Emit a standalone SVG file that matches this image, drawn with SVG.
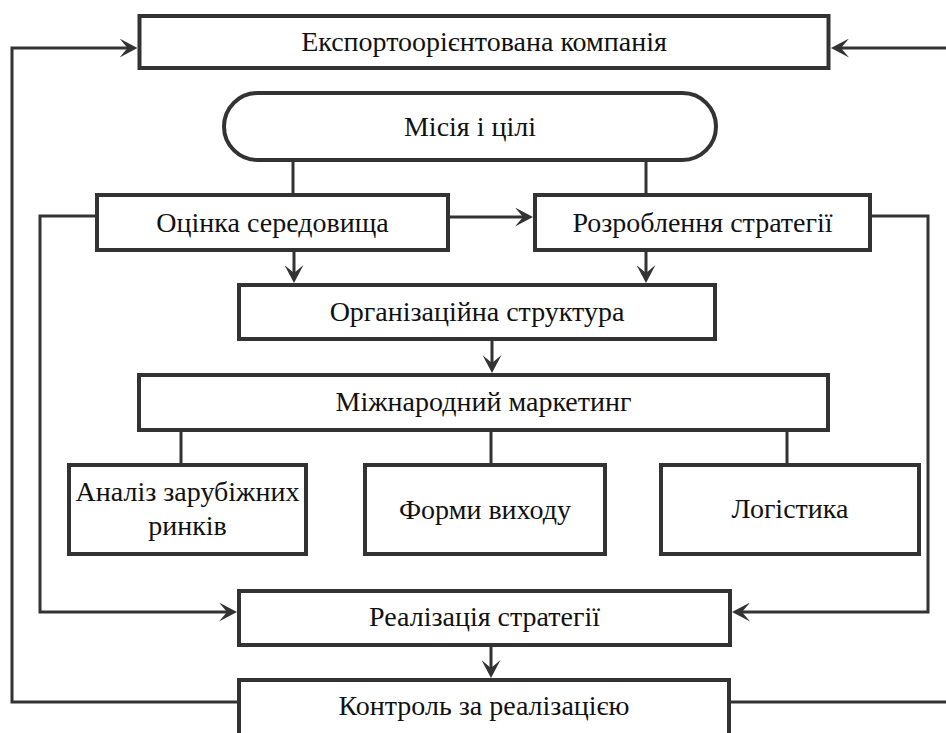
<svg xmlns="http://www.w3.org/2000/svg" width="946" height="733" viewBox="0 0 946 733">
<defs>
<style>
.box{fill:#fff;stroke:#333;stroke-width:4}
.ln{fill:none;stroke:#333;stroke-width:3}
.arr{marker-end:url(#ah)}
text{font-family:"Liberation Serif","Times New Roman",serif;font-size:28px;fill:#111;text-anchor:middle}
</style>
<marker id="ah" viewBox="0 0 18 19" refX="10" refY="9.5" markerWidth="18" markerHeight="19" markerUnits="userSpaceOnUse" orient="auto">
<path d="M0,0 L18,9.5 L0,19 L8,9.5 Z" fill="#333"/>
</marker>
</defs>
<rect width="946" height="733" fill="#fff"/>
<g id="connectors">
<path class="ln arr" d="M237,702 H12 V48 H129.5"/>
<path class="ln" d="M731,702 H946"/>
<path class="ln arr" d="M946,48 H839"/>
<path class="ln" d="M293,162 V193"/>
<path class="ln" d="M646,162 V193"/>
<path class="ln arr" d="M450,217 H525"/>
<path class="ln arr" d="M95,216 H40 V612 H229"/>
<path class="ln arr" d="M872,216 H928 V612 H740"/>
<path class="ln arr" d="M294,252 V275"/>
<path class="ln arr" d="M646,252 V275"/>
<path class="ln arr" d="M492,341 V365"/>
<path class="ln" d="M181,432 V463"/>
<path class="ln" d="M491,432 V463"/>
<path class="ln" d="M787,432 V463"/>
<path class="ln arr" d="M491,647 V670"/>
</g>
<g id="n-company"><rect class="box" x="139.5" y="16" width="689" height="52"/><text x="484" y="51">Експортоорієнтована компанія</text></g>
<g id="n-mission"><rect class="box" x="224" y="93" width="492" height="67" rx="33.5"/><text x="470" y="136">Місія і цілі</text></g>
<g id="n-assess"><rect class="box" x="97" y="195" width="351" height="55"/><text x="272.5" y="232">Оцінка середовища</text></g>
<g id="n-develop"><rect class="box" x="535" y="195" width="335" height="55"/><text x="702.5" y="232">Розроблення стратегії</text></g>
<g id="n-org"><rect class="box" x="239" y="285" width="476" height="54"/><text x="477" y="321">Організаційна структура</text></g>
<g id="n-marketing"><rect class="box" x="139" y="375" width="689" height="55"/><text x="483.5" y="411">Міжнародний маркетинг</text></g>
<g id="n-analysis"><rect class="box" x="69" y="465" width="237" height="89"/><text x="187.5" y="501">Аналіз зарубіжних</text><text x="187.5" y="535">ринків</text></g>
<g id="n-forms"><rect class="box" x="365" y="465" width="240" height="89"/><text x="485" y="519">Форми виходу</text></g>
<g id="n-logistics"><rect class="box" x="661" y="465" width="258" height="89"/><text x="790" y="518">Логістика</text></g>
<g id="n-impl"><rect class="box" x="239" y="591" width="491" height="54"/><text x="484.5" y="626">Реалізація стратегії</text></g>
<g id="n-control"><rect class="box" x="239" y="680" width="490" height="80"/><text x="484" y="715">Контроль за реалізацією</text></g>
</svg>
